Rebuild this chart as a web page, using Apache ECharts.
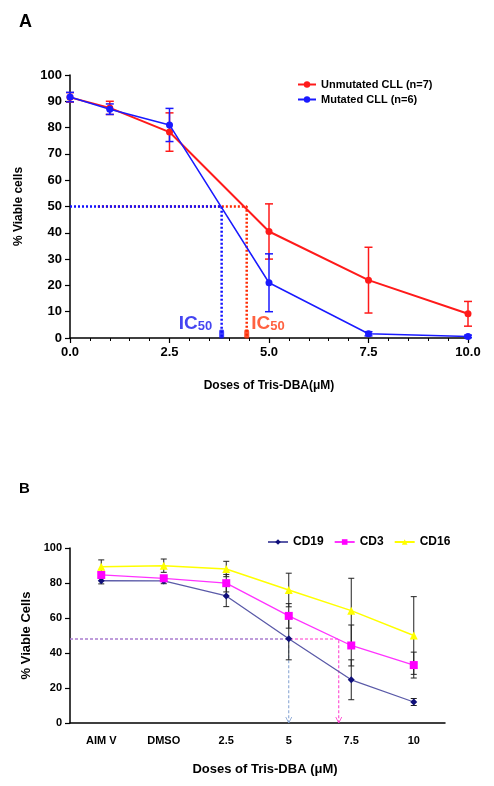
<!DOCTYPE html>
<html><head><meta charset="utf-8">
<script src="https://cdn.jsdelivr.net/npm/echarts@6/dist/echarts.min.js"></script>
<style>html,body{margin:0;padding:0;background:#fff}#c{width:494px;height:786px}</style>
</head><body><div id="c"></div>
<script>
// Panel A data
const dosesA = [0, 1, 2.5, 5, 7.5, 10];
const unmutated = [91.5, 87.5, 78.3, 40.5, 22.0, 9.2];
const unmutatedErr = [1.8, 2.5, 7.3, 10.5, 12.5, 4.7];
const mutated = [91.6, 87.0, 81.0, 21.0, 1.6, 0.6];
const mutatedErr = [1.8, 2.0, 6.3, 11.0, 0.8, 0.5];
const ic50Unmutated = 4.44;
const ic50Mutated = 3.81;

// Panel B data
const catsB = ['AIM V', 'DMSO', '2.5', '5', '7.5', '10'];
const cd19 = [81.3, 81.2, 72.6, 48.1, 24.7, 12.0];
const cd19Err = [1.8, 1.6, 6.1, 12.0, 11.4, 2.0];
const cd3 = [84.6, 82.7, 79.9, 61.2, 44.3, 33.1];
const cd3Err = [2.0, 1.5, 5.0, 7.0, 11.7, 7.4];
const cd16 = [89.3, 89.9, 88.0, 76.0, 64.2, 50.0];
const cd16Err = [3.9, 3.8, 4.4, 9.6, 18.5, 22.2];
const ic50B_level = 48;
const ic50B_cd19 = 3;    // category index position
const ic50B_cd3 = 3.8;   // category index position

const FONT = '"Liberation Sans", Arial, sans-serif';

function errSeries(xs, ys, es, color, capHalf, lw, xIdx, yIdx, z) {
  return {
    type: 'custom', xAxisIndex: xIdx, yAxisIndex: yIdx, z: z,
    silent: true,
    data: ys.map((y, i) => [xs[i], y, es[i]]),
    renderItem: function (params, api) {
      const x = api.value(0), y = api.value(1), e = api.value(2);
      const t = api.coord([x, y + e]), b = api.coord([x, y - e]);
      const st = { stroke: color, lineWidth: lw };
      return { type: 'group', children: [
        { type: 'line', shape: { x1: t[0], y1: t[1], x2: b[0], y2: b[1] }, style: st },
        { type: 'line', shape: { x1: t[0] - capHalf, y1: t[1], x2: t[0] + capHalf, y2: t[1] }, style: st },
        { type: 'line', shape: { x1: b[0] - capHalf, y1: b[1], x2: b[0] + capHalf, y2: b[1] }, style: st }
      ]};
    }
  };
}

const chart = echarts.init(document.getElementById('c'), null, { renderer: 'canvas' });
const axisTxt = { color: '#000', fontFamily: FONT, fontWeight: 'bold' };

function icLabel(color) {
  return {
    formatter: '{a|IC}{b|50}',
    rich: { a: { fontSize: 19, fontWeight: 'bold', color: color, fontFamily: FONT, verticalAlign: 'bottom' },
            b: { fontSize: 13, fontWeight: 'bold', color: color, fontFamily: FONT, padding: [9, 0, 0, 0], verticalAlign: 'bottom' } }
  };
}

const option = {
  animation: false,
  backgroundColor: '#fff',
  textStyle: { fontFamily: FONT },
  title: [
    { text: 'A', left: 14, top: 8, textStyle: { fontSize: 18, fontWeight: 'bold', color: '#000', fontFamily: FONT } },
    { text: 'B', left: 14, top: 476, textStyle: { fontSize: 15, fontWeight: 'bold', color: '#000', fontFamily: FONT } }
  ],
  legend: [
    { left: 292, top: 74, orient: 'vertical', itemGap: 4, itemWidth: 18, itemHeight: 8,
      data: ['Unmutated CLL (n=7)', 'Mutated CLL (n=6)'],
      textStyle: { fontSize: 11, fontWeight: 'bold', color: '#000', fontFamily: FONT } },
    { left: 262, top: 531, orient: 'horizontal', itemGap: 10, itemWidth: 20, itemHeight: 7,
      data: ['CD19', 'CD3', 'CD16'],
      textStyle: { fontSize: 12, fontWeight: 'bold', color: '#000', fontFamily: FONT } }
  ],
  grid: [
    { left: 70, top: 75, width: 398, height: 263 },
    { left: 70, top: 548, width: 375, height: 175 }
  ],
  xAxis: [
    { gridIndex: 0, type: 'value', min: 0, max: 10, interval: 2.5,
      axisLine: { lineStyle: { color: '#000', width: 1.5 } },
      axisTick: { inside: false, length: 5, lineStyle: { color: '#000', width: 1.2 } },
      minorTick: { show: true, splitNumber: 5, length: 3, lineStyle: { color: '#000', width: 1 } },
      splitLine: { show: false },
      axisLabel: Object.assign({ fontSize: 13, margin: 8, formatter: v => v.toFixed(1) }, axisTxt),
      name: 'Doses of Tris-DBA(μM)', nameLocation: 'middle', nameGap: 42,
      nameTextStyle: Object.assign({ fontSize: 12 }, axisTxt) },
    { gridIndex: 1, type: 'category', data: catsB, boundaryGap: true,
      axisLine: { onZero: false, lineStyle: { color: '#000', width: 1.5 } },
      axisTick: { inside: false, length: 5, lineStyle: { color: '#000', width: 1.2 } },
      splitLine: { show: false },
      axisLabel: Object.assign({ fontSize: 11, margin: 12 }, axisTxt),
      name: 'Doses of Tris-DBA (μM)', nameLocation: 'middle', nameGap: 40,
      nameTextStyle: Object.assign({ fontSize: 13, padding: [0, 0, 0, 15] }, axisTxt) },
    { gridIndex: 1, type: 'value', min: -0.5, max: 5.5, show: false }
  ],
  yAxis: [
    { gridIndex: 0, type: 'value', min: 0, max: 100, interval: 10,
      axisLine: { show: true, onZero: false, lineStyle: { color: '#000', width: 1.5 } },
      axisTick: { show: true, inside: false, length: 5, lineStyle: { color: '#000', width: 1.2 } },
      splitLine: { show: false },
      axisLabel: Object.assign({ fontSize: 13, margin: 8 }, axisTxt),
      name: '% Viable cells', nameLocation: 'middle', nameRotate: 90, nameGap: 45,
      nameTextStyle: Object.assign({ fontSize: 12 }, axisTxt) },
    { gridIndex: 1, type: 'value', min: 0, max: 100, interval: 20,
      axisLine: { show: true, onZero: false, lineStyle: { color: '#000', width: 1.5 } },
      axisTick: { show: true, inside: false, length: 5, lineStyle: { color: '#000', width: 1.2 } },
      splitLine: { show: false },
      axisLabel: Object.assign({ fontSize: 11, margin: 8 }, axisTxt),
      name: '% Viable Cells', nameLocation: 'middle', nameRotate: 90, nameGap: 36,
      nameTextStyle: Object.assign({ fontSize: 13 }, axisTxt) }
  ],
  series: [
    // Panel A IC50 guides
    { type: 'line', xAxisIndex: 0, yAxisIndex: 0, silent: true, symbol: 'none', z: 1,
      data: [[0.7, 50], [ic50Unmutated, 50], [ic50Unmutated, 0]],
      lineStyle: { color: '#ff2a00', width: 2.5, type: [2, 2] } },
    { type: 'line', xAxisIndex: 0, yAxisIndex: 0, silent: true, symbol: 'none', z: 1,
      data: [[0, 50], [ic50Mutated, 50], [ic50Mutated, 0]],
      lineStyle: { color: '#1010ff', width: 2.5, type: [2, 2] } },
    errSeries(dosesA, unmutated, unmutatedErr, '#ff1a1a', 4, 1.5, 0, 0, 2),
    errSeries(dosesA, mutated, mutatedErr, '#1a1aff', 4, 1.5, 0, 0, 2),
    { name: 'Unmutated CLL (n=7)', type: 'line', xAxisIndex: 0, yAxisIndex: 0, z: 3,
      data: dosesA.map((d, i) => [d, unmutated[i]]),
      symbol: 'circle', symbolSize: 7, color: '#ff1a1a',
      lineStyle: { color: '#ff1a1a', width: 2 }, itemStyle: { color: '#ff1a1a' } },
    { name: 'Mutated CLL (n=6)', type: 'line', xAxisIndex: 0, yAxisIndex: 0, z: 4,
      data: dosesA.map((d, i) => [d, mutated[i]]),
      symbol: 'circle', symbolSize: 7, color: '#1a1aff',
      lineStyle: { color: '#1a1aff', width: 1.5 }, itemStyle: { color: '#1a1aff' } },
    // IC50 markers + labels
    { type: 'scatter', xAxisIndex: 0, yAxisIndex: 0, silent: true, z: 5,
      data: [[ic50Mutated, 0]], symbol: 'roundRect', symbolSize: [5, 9], symbolOffset: [0, -4],
      itemStyle: { color: '#1010ff' },
      label: Object.assign({ show: true, position: 'left', distance: 7, offset: [0, -12] }, icLabel('#1515ee')) },
    { type: 'scatter', xAxisIndex: 0, yAxisIndex: 0, silent: true, z: 5,
      data: [[ic50Unmutated, 0]], symbol: 'roundRect', symbolSize: [5, 9], symbolOffset: [0, -4],
      itemStyle: { color: '#ff2a00' },
      label: Object.assign({ show: true, position: 'right', distance: 2, offset: [0, -12] }, icLabel('#ff3a10')) },

    // Panel B IC50 guides
    { type: 'line', xAxisIndex: 2, yAxisIndex: 1, silent: true, symbol: 'none', z: 1,
      data: [[-0.5, ic50B_level], [ic50B_cd3, ic50B_level], [ic50B_cd3, 0]],
      lineStyle: { color: '#ff33cc', width: 1, type: [3, 2] } },
    { type: 'line', xAxisIndex: 2, yAxisIndex: 1, silent: true, symbol: 'none', z: 1,
      data: [[-0.5, ic50B_level], [ic50B_cd19, ic50B_level], [ic50B_cd19, 0]],
      lineStyle: { color: '#7f9fd0', width: 1, type: [3, 2] } },
    { type: 'scatter', xAxisIndex: 2, yAxisIndex: 1, silent: true, z: 1,
      data: [[ic50B_cd19, 0]], symbol: 'path://M0,0 L5,10 L10,0', symbolSize: [6, 6], symbolOffset: [0, -3],
      itemStyle: { color: 'none', borderColor: '#7f9fd0', borderWidth: 1 } },
    { type: 'scatter', xAxisIndex: 2, yAxisIndex: 1, silent: true, z: 1,
      data: [[ic50B_cd3, 0]], symbol: 'path://M0,0 L5,10 L10,0', symbolSize: [6, 6], symbolOffset: [0, -3],
      itemStyle: { color: 'none', borderColor: '#ff33cc', borderWidth: 1 } },
    errSeries([0,1,2,3,4,5], cd19, cd19Err, '#222', 3, 1, 1, 1, 2),
    errSeries([0,1,2,3,4,5], cd3, cd3Err, '#222', 3, 1, 1, 1, 2),
    errSeries([0,1,2,3,4,5], cd16, cd16Err, '#222', 3, 1, 1, 1, 2),
    { name: 'CD19', type: 'line', xAxisIndex: 1, yAxisIndex: 1, z: 3, data: cd19,
      symbol: 'diamond', symbolSize: 7, color: '#10107a',
      lineStyle: { color: '#5a5aa8', width: 1.3 }, itemStyle: { color: '#10107a' } },
    { name: 'CD3', type: 'line', xAxisIndex: 1, yAxisIndex: 1, z: 3, data: cd3,
      symbol: 'rect', symbolSize: 8, color: '#ff00ff',
      lineStyle: { color: '#ff33ff', width: 1.3 }, itemStyle: { color: '#ff00ff' } },
    { name: 'CD16', type: 'line', xAxisIndex: 1, yAxisIndex: 1, z: 3, data: cd16,
      symbol: 'triangle', symbolSize: 8, color: '#ffff00',
      lineStyle: { color: '#ffff00', width: 1.5 }, itemStyle: { color: '#ffff00' } }
  ]
};
chart.setOption(option);
</script>
</body></html>
